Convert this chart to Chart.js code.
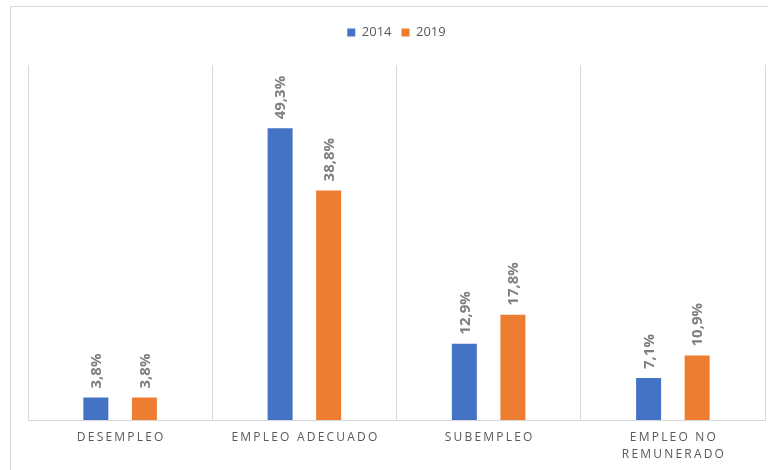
<!DOCTYPE html>
<html>
<head>
<meta charset="utf-8">
<script src="https://cdn.jsdelivr.net/npm/chart.js@4.4.0/dist/chart.umd.min.js"></script>
<style>
    html, body { margin: 0; padding: 0; background: #fff; }
    #wrap { position: relative; width: 768px; height: 470px; overflow: hidden; }
    #frame { position: absolute; left: 10px; top: 6px; width: 800px; height: 500px; border: 1px solid #d9d9d9; }
    #chart { position: absolute; left: 0; top: 0; }
</style>
</head>
<body>
<div id="wrap">
    <div id="frame"></div>
    <canvas id="chart" width="768" height="470"></canvas>
</div>
<script>
// Chart data
const categories = [['DESEMPLEO'], ['EMPLEO ADECUADO'], ['SUBEMPLEO'], ['EMPLEO NO', 'REMUNERADO']];
const seriesNames = ['2014', '2019'];
const values2014 = [3.8, 49.3, 12.9, 7.1];
const values2019 = [3.8, 38.8, 17.8, 10.9];
const yMax = 60;

const FONT = '"Open Sans", "Liberation Sans", sans-serif';

// Extra space between the legend and the plot
const legendGap = {
    id: 'legendGap',
    beforeInit(chart) {
        const fit = chart.legend.fit;
        chart.legend.fit = function () {
            fit.bind(chart.legend)();
            this.height += 16;
        };
    }
};

// Rotated value labels above each bar
const valueLabels = {
    id: 'valueLabels',
    afterDatasetsDraw(chart) {
        const ctx = chart.ctx;
        ctx.save();
        ctx.font = 'bold 15px ' + FONT;
        ctx.fillStyle = '#7f7f7f';
        ctx.textAlign = 'left';
        ctx.textBaseline = 'middle';
        chart.data.datasets.forEach((ds, di) => {
            const meta = chart.getDatasetMeta(di);
            meta.data.forEach((bar, i) => {
                const text = ds.data[i].toFixed(1).replace('.', ',') + '%';
                ctx.save();
                ctx.translate(bar.x + 1, bar.y - 9);
                ctx.rotate(-Math.PI / 2);
                ctx.fillText(text, 0, 0);
                ctx.restore();
            });
        });
        ctx.restore();
    }
};

// Category labels with letter spacing (drawn by hand, Chart.js has no letterSpacing option)
const spacedLabels = {
    id: 'spacedLabels',
    afterDraw(chart) {
        const ctx = chart.ctx;
        const xs = chart.scales.x;
        const top = chart.chartArea.bottom + 18;
        ctx.save();
        ctx.font = '12px ' + FONT;
        ctx.fillStyle = '#595959';
        ctx.textAlign = 'center';
        ctx.textBaseline = 'middle';
        ctx.letterSpacing = '2.2px';
        categories.forEach((lines, i) => {
            const x = xs.getPixelForTick(i) + 1.1;
            lines.forEach((line, j) => ctx.fillText(line, x, top + j * 17));
        });
        ctx.restore();
    }
};

new Chart(document.getElementById('chart'), {
    type: 'bar',
    data: {
        labels: categories,
        datasets: [
            { label: seriesNames[0], data: values2014, backgroundColor: '#4472c4', borderWidth: 0 },
            { label: seriesNames[1], data: values2019, backgroundColor: '#ed7d31', borderWidth: 0 }
        ]
    },
    options: {
        responsive: false,
        devicePixelRatio: 1,
        animation: false,
        categoryPercentage: 0.527,
        barPercentage: 0.515,
        layout: { padding: { left: 28, right: 3, top: 16, bottom: 50 } },
        plugins: {
            tooltip: { enabled: false },
            legend: {
                position: 'top',
                labels: {
                    boxWidth: 8,
                    boxHeight: 8,
                    padding: 10,
                    color: '#595959',
                    font: { family: FONT, size: 13 }
                }
            }
        },
        scales: {
            x: {
                grid: { offset: true, color: '#d9d9d9', drawTicks: false },
                border: { color: '#d9d9d9' },
                ticks: { display: false }
            },
            y: { display: false, min: 0, max: yMax }
        }
    },
    plugins: [legendGap, valueLabels, spacedLabels]
});
</script>
</body>
</html>
